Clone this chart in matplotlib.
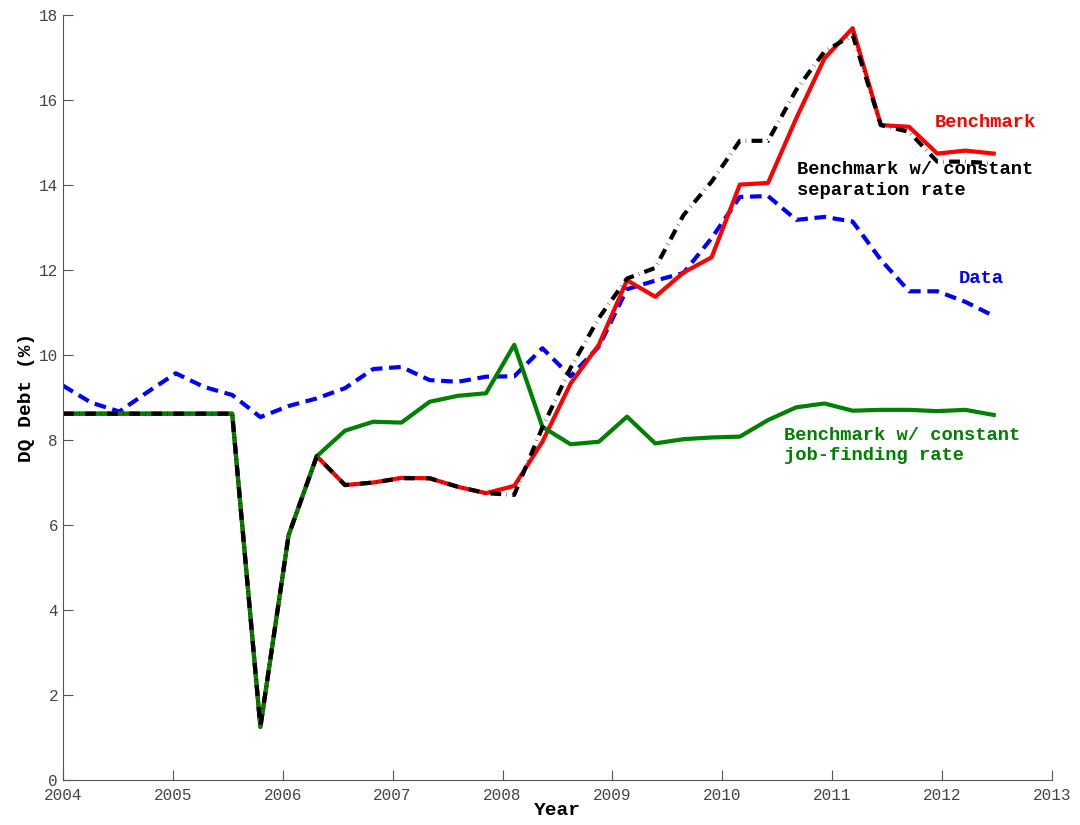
import matplotlib.pyplot as plt
import numpy as np

# --- Data ---
# 34 evenly spaced observations, 2004 to mid-2012
years = np.linspace(2004, 2012.47, 34)

data = [9.28, 8.88, 8.67, 9.13, 9.57, 9.25, 9.06, 8.54, 8.80, 8.98,
        9.22, 9.67, 9.72, 9.41, 9.37, 9.49, 9.50, 10.16, 9.50, 10.20,
        11.55, 11.75, 11.93, 12.75, 13.72, 13.74, 13.18, 13.25, 13.14, 12.24,
        11.50, 11.50, 11.25, 10.92]

benchmark = [8.62, 8.62, 8.62, 8.62, 8.62, 8.62, 8.62, 1.25, 5.76, 7.62,
             6.94, 7.00, 7.11, 7.10, 6.90, 6.75, 6.92, 7.96, 9.33, 10.24,
             11.76, 11.37, 11.94, 12.30, 14.01, 14.05, 15.57, 16.98, 17.69, 15.41,
             15.37, 14.74, 14.81, 14.74]

const_sep = [8.62, 8.62, 8.62, 8.62, 8.62, 8.62, 8.62, 1.25, 5.76, 7.62,
             6.94, 7.00, 7.10, 7.10, 6.90, 6.75, 6.71, 8.30, 9.70, 10.87,
             11.80, 12.05, 13.29, 14.08, 15.04, 15.04, 16.24, 17.14, 17.53, 15.41,
             15.25, 14.55, 14.55, 14.51]

const_jf = [8.62, 8.62, 8.62, 8.62, 8.62, 8.62, 8.62, 1.25, 5.76, 7.62,
            8.22, 8.43, 8.41, 8.90, 9.04, 9.10, 10.24, 8.31, 7.90, 7.96,
            8.55, 7.92, 8.02, 8.06, 8.08, 8.47, 8.77, 8.86, 8.69, 8.71,
            8.71, 8.68, 8.71, 8.59]

# --- Plotting ---
mono = 'Liberation Mono'
fig = plt.figure(figsize=(10.8, 8.25), dpi=100)
ax = fig.add_axes([0.0583, 0.0545, 0.9157, 0.9273])

lw = 3
ax.plot(years, data, color='#0000FF', lw=lw, dashes=(2.8, 1.6))
ax.plot(years, benchmark, color='#FF0000', lw=lw)
ax.plot(years, const_jf, color='#008000', lw=lw)
ax.plot(years, const_sep, color='black', lw=lw, dashes=(2.6, 1.3, 0.1, 1.3))

ax.set_xlim(2004, 2013)
ax.set_ylim(0, 18)
ax.set_xticks(range(2004, 2014))
ax.set_yticks(range(0, 19, 2))

for s in ['top', 'right']:
    ax.spines[s].set_visible(False)
for s in ['left', 'bottom']:
    ax.spines[s].set_color('#555555')
ax.tick_params(direction='in', length=7, color='#555555', labelcolor='#444444',
               labelsize=11.5)
ax.tick_params(axis='x', pad=6)
for lab in ax.get_xticklabels() + ax.get_yticklabels():
    lab.set_family(mono)

ax.set_xlabel('Year', fontsize=14, fontweight='bold', family=mono, labelpad=-1)
ax.set_ylabel('DQ Debt (%)', fontsize=14, fontweight='bold', family=mono, labelpad=3)

tkw = dict(fontsize=13.5, fontweight='bold', family=mono, va='center', ha='left',
           linespacing=1.25)
ax.text(2011.93, 15.48, 'Benchmark', color='#FF0000', **tkw)
ax.text(2010.68, 14.12, 'Benchmark w/ constant\nseparation rate', color='black', **tkw)
ax.text(2012.15, 11.81, 'Data', color='#0000FF', **tkw)
ax.text(2010.56, 7.87, 'Benchmark w/ constant\njob-finding rate', color='#008000', **tkw)

fig.savefig('out.png', dpi=100)
